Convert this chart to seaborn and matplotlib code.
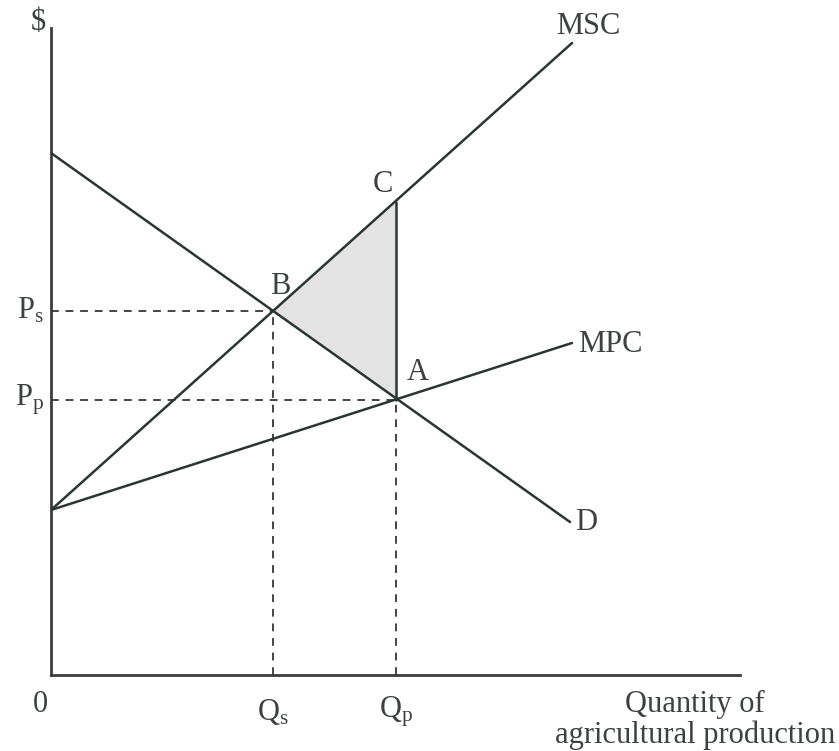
import matplotlib
matplotlib.use("Agg")
import matplotlib.pyplot as plt
import seaborn as sns

# ──────────────────────────────────────────
# Data (quantity / price units)
# ──────────────────────────────────────────
demand_q = [0, 519]
demand_p = [522, 153]
msc_q = [0, 521]
msc_p = [165, 632]
mpc_q = [0, 521]
mpc_p = [165, 332]

q_s, p_s = 222, 364      # point B (social optimum)
q_p, p_p = 345, 275      # point A (private equilibrium)
p_c = 473                # point C on MSC at Q_p

sns.set_theme(style="white")
plt.rcParams["font.family"] = ["Liberation Serif", "DejaVu Serif"]
plt.rcParams["mathtext.fontset"] = "custom"
plt.rcParams["mathtext.rm"] = "Liberation Serif"
plt.rcParams["mathtext.it"] = "Liberation Serif"

line_col = "#2b3630"
text_col = "#3d423f"

fig = plt.figure(figsize=(8.39, 7.51), dpi=100)
ax = fig.add_axes([51 / 839, 76 / 751, 689 / 839, 647 / 751])
ax.set_xlim(0, 689)
ax.set_ylim(0, 647)

# shaded deadweight-loss triangle B-C-A
ax.fill([q_s, q_p, q_p], [p_s, p_c, p_p], color="#e3e3e3", zorder=1, lw=0)

# dashed guide lines
dash = dict(color="#444444", lw=1.4, ls=(0, (4, 3.5)), zorder=2)
ax.plot([0, q_s], [p_s, p_s], **dash)
ax.plot([q_s, q_s], [0, p_s], **dash)
ax.plot([0, q_p], [p_p, p_p], **dash)
ax.plot([q_p, q_p], [0, p_p], **dash)

# curves
sns.lineplot(x=demand_q, y=demand_p, ax=ax, color=line_col, lw=1.8, zorder=3)
sns.lineplot(x=msc_q, y=msc_p, ax=ax, color=line_col, lw=1.8, zorder=3)
sns.lineplot(x=mpc_q, y=mpc_p, ax=ax, color=line_col, lw=1.8, zorder=3)
ax.plot([q_p, q_p], [p_p, p_c], color=line_col, lw=1.8, zorder=3)

# axes
for side in ["top", "right"]:
    ax.spines[side].set_visible(False)
for side in ["left", "bottom"]:
    ax.spines[side].set_color("#3c3c3c")
    ax.spines[side].set_linewidth(2)
ax.set_xticks([])
ax.set_yticks([])
ax.set_facecolor("white")

fs = 22
kw = dict(color=text_col, fontsize=fs, clip_on=False)
ax.text(-13, 652, "$", ha="center", va="center", **kw)
ax.text(537, 648, "MSC", ha="center", va="center", **kw)
ax.text(527, 330, "MPC", ha="left", va="center", **kw)
ax.text(524, 152, "D", ha="left", va="center", **kw)
ax.text(332, 490, "C", ha="center", va="center", **kw)
ax.text(229, 388, "B", ha="center", va="center", **kw)
ax.text(367, 303, "A", ha="center", va="center", **kw)
ax.text(-7, p_s, r"P$_\mathrm{s}$", ha="right", va="center", **kw)
ax.text(-7, p_p, r"P$_\mathrm{p}$", ha="right", va="center", **kw)
ax.text(-11, -30, "0", ha="center", va="center", **kw)
ax.text(q_s, -37, r"Q$_\mathrm{s}$", ha="center", va="center", **kw)
ax.text(q_p, -37, r"Q$_\mathrm{p}$", ha="center", va="center", **kw)
ax.text(644, -45, "Quantity of\nagricultural production", ha="center", va="center",
        linespacing=1.08, **kw)

fig.savefig("out.png", dpi=100, facecolor="white")
